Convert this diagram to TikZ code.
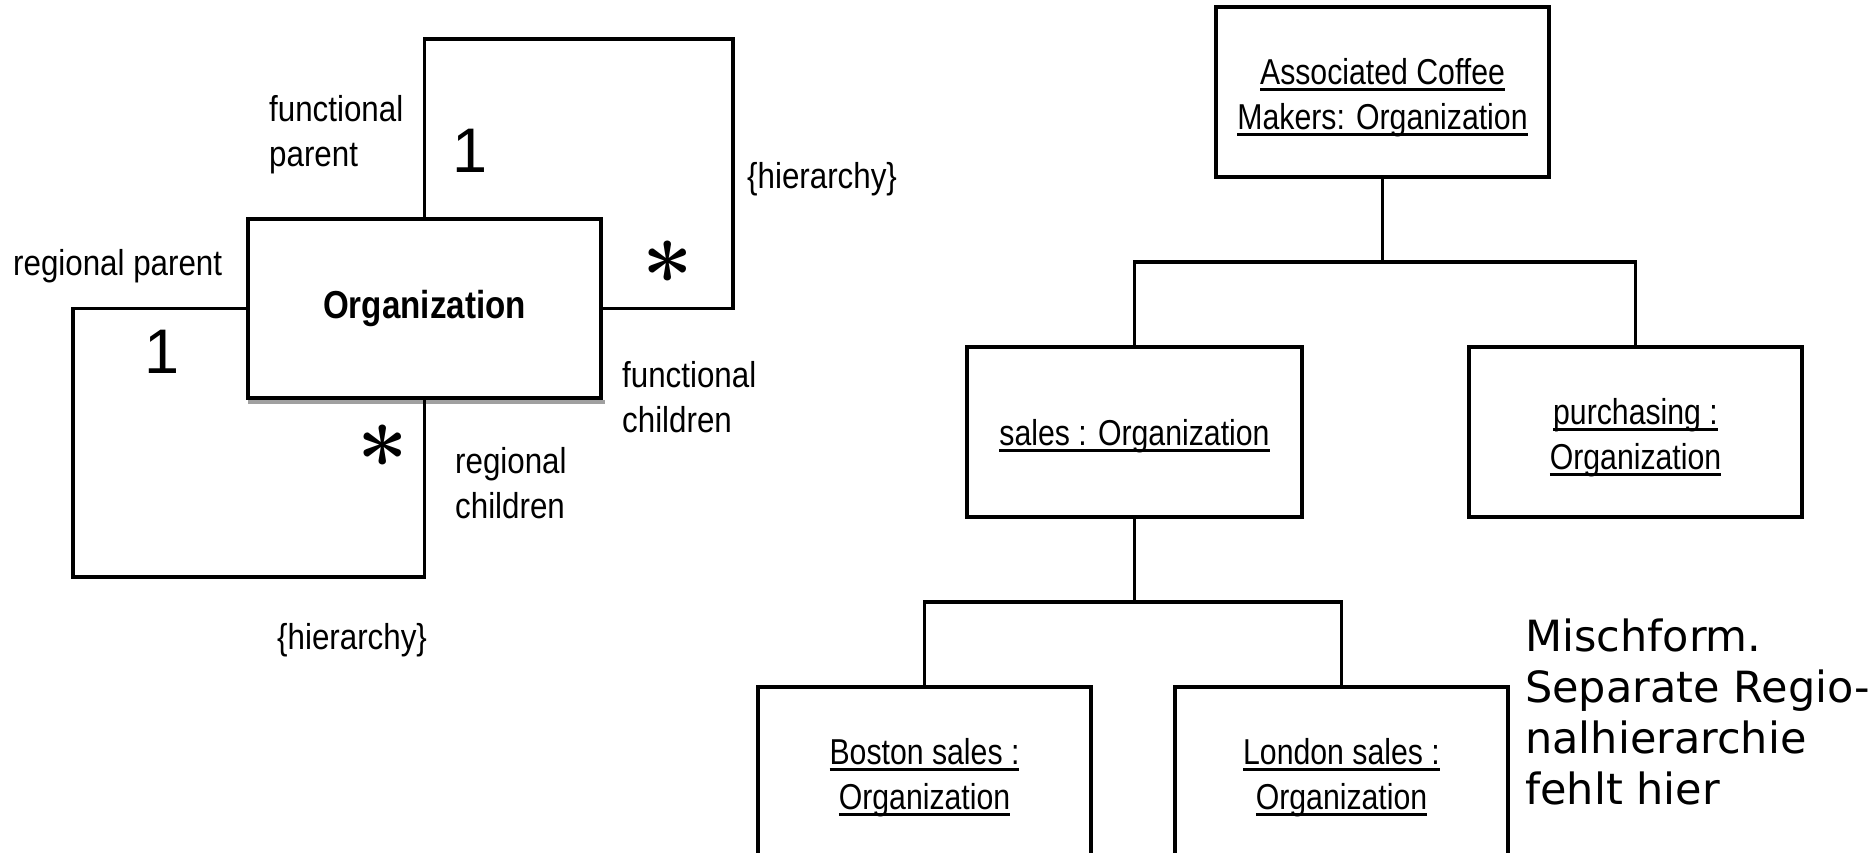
\documentclass[tikz,border=0pt]{standalone}
\usepackage{fontspec}
\usetikzlibrary{calc}

% narrow sans for the UML texts, Verdana-like sans for the remark
\newfontfamily\umlfont[FakeStretch=0.84]{Liberation Sans}
\newfontfamily\lblfont[FakeStretch=0.87]{Liberation Sans}
\newfontfamily\classfont[FakeStretch=0.85]{Liberation Sans}
\newfontfamily\multfont{Liberation Sans}
\newfontfamily\notefont{DejaVu Sans}

\definecolor{shadowgray}{HTML}{A0A0A0}

% fixed first-line heights, so every text block sits on a known baseline
\newcommand\firstline{\rule{0pt}{35pt}}
\newcommand\tallfirstline{\rule{0pt}{37.5pt}}
% underlined object name with a heavy rule
\newcommand\objname[1]{\leavevmode\setbox0=\hbox{#1}\rlap{\rule[-6pt]{\wd0}{2.5pt}}\box0}

\tikzset{
  classbox/.style={draw, line width=4pt, minimum width=353pt, minimum height=179pt,
    inner sep=0pt, font=\classfont\fontsize{39}{45}\selectfont},
  objbox/.style={draw, line width=4pt, minimum width=333pt, minimum height=170pt,
    inner sep=0pt, align=center, font=\umlfont\fontsize{36}{45}\selectfont},
  wire/.style={line width=3.6pt},
  lbl/.style={anchor=north west, inner sep=0pt, align=left,
    font=\lblfont\fontsize{36}{45.5}\selectfont, execute at begin node=\firstline},
  mult/.style={anchor=base, inner sep=0pt, font=\multfont\fontsize{63}{70}\selectfont},
  manymult/.style={anchor=north, inner sep=0pt, font=\normalfont\bfseries\fontsize{90}{96}\selectfont},
  remark/.style={anchor=north west, inner sep=0pt, align=left,
    font=\notefont\fontsize{43}{51}\selectfont, execute at begin node=\firstline}
}

\begin{document}
\begin{tikzpicture}[x=1pt,y=-1pt]
\clip (0,0) rectangle (1876,853);
\fill[white] (0,0) rectangle (1876,853);

% ---- class diagram: Organization with two reflexive hierarchies ----
\node[classbox] (org) at (424.5,308.5) {\bfseries\raisebox{-5pt}{Organization}};
\fill[shadowgray] ($(org.south west)+(2,0)$) rectangle ($(org.south east)+(2,4)$);

\coordinate (fturn) at (733,39);
\coordinate (rturn) at (73,577);
\draw[wire] (org.north) |- (fturn) |- (org.east);
\draw[wire] (org.west) -| (rturn) -| (org.south);

\node[lbl] (fparent) at (269,95) {functional\\parent};
\node[lbl] (rparent) at (13,240) {regional parent};
\node[lbl] (fchildren) at (622,361) {functional\\children};
\node[lbl] (rchildren) at (455,447) {regional\\children};
\node[lbl] (fhier) at (747,153) {\{hierarchy\}};
\node[lbl] (rhier) at (277,614) {\{hierarchy\}};

\node[mult] (fone) at (470,173) {1};
\node[mult] (rone) at (162,373) {1};
\node[manymult] (fmany) at (668,241) {*};
\node[manymult] (rmany) at (383,425) {*};

% ---- object diagram: functional hierarchy ----
\node[objbox] (acm) at (1382.5,92) {\tallfirstline\objname{Associated Coffee}\\\objname{Makers: Organization}};
\node[objbox, minimum width=335pt] (sales) at (1134.5,432) {\firstline\objname{sales : Organization}};
\node[objbox] (purch) at (1635.5,432) {\tallfirstline\objname{purchasing :}\\\objname{Organization}};
\node[objbox] (boston) at (924.5,772) {\tallfirstline\objname{Boston sales :}\\\objname{Organization}};
\node[objbox] (london) at (1341.5,772) {\tallfirstline\objname{London sales :}\\\objname{Organization}};

\coordinate (top fork) at (1382.5,262);
\coordinate (sales fork) at (1134.5,602);
\draw[wire] (acm.south) -- (top fork) -| (sales.north);
\draw[wire] (top fork) -| (purch.north);
\draw[wire] (sales.south) -- (sales fork) -| (boston.north);
\draw[wire] (sales fork) -| (london.north);

\node[remark] (remark) at (1525,619) {Mischform.\\Separate Regio-\\nalhierarchie\\fehlt hier};
\end{tikzpicture}
\end{document}
